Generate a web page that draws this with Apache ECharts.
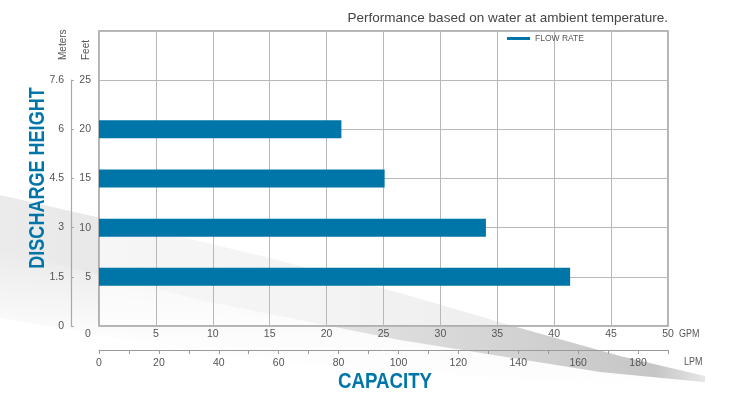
<!DOCTYPE html>
<html>
<head>
<meta charset="utf-8">
<script src="https://cdn.jsdelivr.net/npm/echarts@6/dist/echarts.min.js"></script>
<style>
html,body{margin:0;padding:0;background:#fff;}
#chart{width:745px;height:394px;}
</style>
</head>
<body>
<div id="chart"></div>
<script>
// ---- data ----
var feetCategories = ['0', '5', '10', '15', '20', '25', '30'];
var feetLabels = ['5', '10', '15', '20', '25'];
var meterLabels = ['0', '1.5', '3', '4.5', '6', '7.6'];
var barFeet = ['5', '10', '15', '20'];
var flowGPM = [41.4, 34.0, 25.1, 21.3];
var seriesName = 'FLOW RATE';
var titleText = 'Performance based on water at ambient temperature.';
var yTitle = 'DISCHARGE HEIGHT';
var xTitle = 'CAPACITY';

var FONT = '"Liberation Sans", Arial, Helvetica, sans-serif';
var BLUE = '#0075a8';
var TXT = '#555';
var LBL = 10.5;

var chart = echarts.init(document.getElementById('chart'), null, {renderer: 'canvas'});

var option = {
  animation: false,
  backgroundColor: '#fff',
  title: {
    text: titleText,
    right: 72, top: 6,
    textStyle: {fontFamily: FONT, fontSize: 13.5, fontWeight: 'normal', color: '#444'}
  },
  legend: {
    data: [seriesName],
    left: 502, top: 29,
    icon: 'rect', itemWidth: 23, itemHeight: 3, itemGap: 5,
    textStyle: {fontFamily: FONT, fontSize: 8.5, color: TXT}
  },
  grid: [
    {left: 99, right: 77, top: 31, bottom: 68, show: true, borderColor: '#9a9a9a', borderWidth: 1.5,
     backgroundColor: 'rgba(255,255,255,0.6)'},
    {left: 99, right: 77, top: 80, bottom: 68, show: false}
  ],
  xAxis: [
    {
      type: 'value', gridIndex: 0, min: 0, max: 50, interval: 5, position: 'bottom',
      axisLine: {show: false}, axisTick: {show: false},
      axisLabel: {
        margin: 3, fontFamily: FONT, fontSize: LBL, color: TXT,
        formatter: function (v) { return v === 0 ? '{z|0}' : String(v); },
        rich: {z: {fontFamily: FONT, fontSize: LBL, color: TXT, padding: [0, 22, 0, 0]}}
      },
      splitLine: {show: true, lineStyle: {color: '#b8b8b8', width: 1}}
    },
    {
      type: 'value', gridIndex: 0, min: 0, max: 190, interval: 10, position: 'bottom', offset: 24,
      axisLine: {show: true, onZero: false, lineStyle: {color: '#9a9a9a', width: 1}},
      axisTick: {show: true, inside: false, length: 4, lineStyle: {color: '#9a9a9a'}},
      axisLabel: {
        margin: 8, fontFamily: FONT, fontSize: LBL, color: TXT,
        formatter: function (v) { return v % 20 === 0 ? String(v) : ''; }
      },
      splitLine: {show: false}
    },
    {type: 'value', gridIndex: 1, min: 0, max: 50, show: false}
  ],
  yAxis: [
    {
      type: 'category', gridIndex: 0, data: feetCategories, boundaryGap: false,
      axisLine: {show: false}, axisTick: {show: false},
      axisLabel: {
        margin: 8, fontFamily: FONT, fontSize: LBL, color: TXT,
        formatter: function (v) { return feetLabels.indexOf(v) >= 0 ? v : ''; }
      },
      splitLine: {show: true, lineStyle: {color: '#b8b8b8', width: 1}}
    },
    {
      type: 'value', gridIndex: 1, min: 0, max: 25, interval: 5, position: 'left', offset: 28,
      axisLine: {show: true, onZero: false, lineStyle: {color: '#a8a8a8', width: 1.2}},
      axisTick: {show: true, inside: true, length: 3, lineStyle: {color: '#a8a8a8'}},
      axisLabel: {
        margin: 7, fontFamily: FONT, fontSize: LBL, color: TXT,
        formatter: function (v) { return meterLabels[Math.round(v / 5)]; }
      },
      splitLine: {show: false}
    }
  ],
  series: [{
    name: seriesName,
    type: 'bar',
    xAxisIndex: 0, yAxisIndex: 0,
    barWidth: 18,
    itemStyle: {color: BLUE},
    data: barFeet.map(function (f, i) { return [flowGPM[i], f]; })
  }],
  graphic: [
    {
      type: 'polygon', z: -10, silent: true,
      shape: {points: [[0,195],[140,227],[270,258],[400,293],[520,328],[620,356],[705,376],[705,382],[600,384],[400,372],[200,352],[0,318]]},
      style: {fill: new echarts.graphic.LinearGradient(0, 0, 745, 0, [
        {offset: 0, color: '#ebebeb'}, {offset: 0.45, color: '#e2e2e2'},
        {offset: 0.88, color: '#c6c6c6'}, {offset: 0.95, color: '#e8e8e8'}], true)}
    },
    {
      type: 'polygon', z: -9, silent: true,
      shape: {points: [[0,250],[200,300],[400,340],[600,372],[745,386],[745,394],[0,394]]},
      style: {fill: new echarts.graphic.LinearGradient(0, 250, 0, 394, [
        {offset: 0, color: 'rgba(255,255,255,0)'}, {offset: 0.6, color: 'rgba(255,255,255,0.9)'},
        {offset: 1, color: 'rgba(255,255,255,1)'}], true)}
    },
    {
      type: 'text', x: 38, y: 178, rotation: Math.PI / 2, scaleX: 0.82,
      style: {text: yTitle, fill: BLUE, font: 'bold 22px ' + FONT, align: 'center', verticalAlign: 'middle'}
    },
    {
      type: 'text', x: 385, y: 382, scaleX: 0.85,
      style: {text: xTitle, fill: BLUE, font: 'bold 22px ' + FONT, align: 'center', verticalAlign: 'middle'}
    },
    {
      type: 'text', x: 63, y: 60, rotation: Math.PI / 2,
      style: {text: 'Meters', fill: TXT, font: '10px ' + FONT, align: 'left', verticalAlign: 'middle'}
    },
    {
      type: 'text', x: 86, y: 60, rotation: Math.PI / 2,
      style: {text: 'Feet', fill: TXT, font: '10px ' + FONT, align: 'left', verticalAlign: 'middle'}
    },
    {
      type: 'text', x: 679, y: 334, scaleX: 0.85,
      style: {text: 'GPM', fill: TXT, font: LBL + 'px ' + FONT, align: 'left', verticalAlign: 'middle'}
    },
    {
      type: 'text', x: 684, y: 362, scaleX: 0.85,
      style: {text: 'LPM', fill: TXT, font: LBL + 'px ' + FONT, align: 'left', verticalAlign: 'middle'}
    }
  ]
};
chart.setOption(option);
</script>
</body>
</html>
